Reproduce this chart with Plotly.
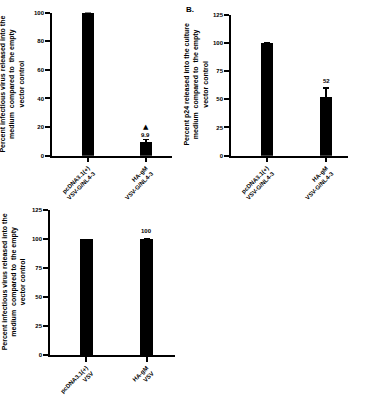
import plotly.graph_objects as go

# ---- data ----
cats_a = ["pcDNA3.1(+)<br>VSV-G/NL4-3", "HA-gM<br>VSV-G/NL4-3"]
vals_a = [100, 9.9]
err_a = [None, 1.5]
labels_a = ["", "9.9"]

cats_b = ["pcDNA3.1(+)<br>VSV-G/NL4-3", "HA-gM<br>VSV-G/NL4-3"]
vals_b = [100, 52]
err_b = [None, 8]
labels_b = ["", "52"]

cats_c = ["pcDNA3.1(+)<br>VSV", "HA-gM<br>VSV"]
vals_c = [100, 100]
err_c = [None, 0.8]
labels_c = ["", "100"]

ticks_a = [0, 20, 40, 60, 80, 100]
ticks_bc = [0, 25, 50, 75, 100, 125]

FONT = "Liberation Sans"
fig = go.Figure()

def add_bar(cats, vals, err, xa, ya, width):
    fig.add_trace(go.Bar(
        x=cats, y=vals, xaxis=xa, yaxis=ya, width=width,
        marker=dict(color="black", line=dict(width=0)),
        error_y=dict(type="data", array=err, visible=True, color="black",
                     thickness=1.5, width=3),
        showlegend=False))

add_bar(cats_a, vals_a, err_a, "x", "y", 0.22)
add_bar(cats_b, vals_b, err_b, "x2", "y2", 0.2)
add_bar(cats_c, vals_c, err_c, "x3", "y3", 0.21)

ax_common = dict(showline=True, linecolor="black", linewidth=1.5, ticks="outside",
                 tickcolor="black", ticklen=5, tickwidth=1.5, showgrid=False,
                 zeroline=False, tickfont=dict(family=FONT, size=6, color="black", weight="bold"))

fig.update_layout(
    width=365, height=400, margin=dict(l=0, r=0, t=0, b=0),
    plot_bgcolor="white", paper_bgcolor="white", bargap=0,
    xaxis=dict(domain=[52/365, 172/365], range=[-0.62, 1.45], type="category",
               tickangle=-45, anchor="y", **ax_common),
    yaxis=dict(domain=[1-159/400, 1-10/400], range=[0, 100], tickvals=ticks_a,
               anchor="x", **ax_common),
    xaxis2=dict(domain=[231/365, 348/365], range=[-0.61, 1.37], type="category",
                tickangle=-45, anchor="y2", **ax_common),
    yaxis2=dict(domain=[1-159/400, 1-12/400], range=[0, 125], tickvals=ticks_bc,
                anchor="x2", **ax_common),
    xaxis3=dict(domain=[50/365, 175/365], range=[-0.6, 1.47], type="category",
                tickangle=-45, anchor="y3", **ax_common),
    yaxis3=dict(domain=[1-367/400, 1-216/400], range=[0, 125], tickvals=ticks_bc,
                anchor="x3", **ax_common),
)

lab_font = dict(family=FONT, size=6, color="black", weight="bold")

def add_labels(cats, vals, err, labels, xr, yr, shift):
    for c, v, e, t in zip(cats, vals, err, labels):
        if t:
            fig.add_annotation(x=c, y=v + (e or 0), xref=xr, yref=yr, text=t, showarrow=False,
                               yshift=shift, font=lab_font)

add_labels(cats_a, vals_a, err_a, labels_a, "x", "y", 4)
add_labels(cats_b, vals_b, err_b, labels_b, "x2", "y2", 7)
add_labels(cats_c, vals_c, err_c, labels_c, "x3", "y3", 7)
# significance marker above HA-gM in panel A
fig.add_annotation(x=cats_a[1], y=vals_a[1] + err_a[1], xref="x", yref="y", text="▲",
                   showarrow=False, yshift=12, font=dict(family="DejaVu Sans", size=7, color="black"))

title_font = dict(family=FONT, size=7, color="black", weight="bold")
fig.add_annotation(x=12/365, y=1-85/400, xref="paper", yref="paper", textangle=-90,
                   text="Percent infectious virus released into the<br>medium  compared to  the empty<br>vector control",
                   showarrow=False, font=title_font, xanchor="center", yanchor="middle")
fig.add_annotation(x=196/365, y=1-85/400, xref="paper", yref="paper", textangle=-90,
                   text="Percent p24 released into the culture<br>medium  compared to  the empty<br>vector control",
                   showarrow=False, font=title_font, xanchor="center", yanchor="middle")
fig.add_annotation(x=13/365, y=1-291/400, xref="paper", yref="paper", textangle=-90,
                   text="Percent infectious virus released into the<br>medium  compared to  the empty<br>vector control",
                   showarrow=False, font=title_font, xanchor="center", yanchor="middle")
fig.add_annotation(x=184/365, y=1-7/400, xref="paper", yref="paper", text="B.",
                   showarrow=False, font=dict(family=FONT, size=8, color="black", weight="bold"),
                   xanchor="left", yanchor="middle")

fig.write_html("out.html")
